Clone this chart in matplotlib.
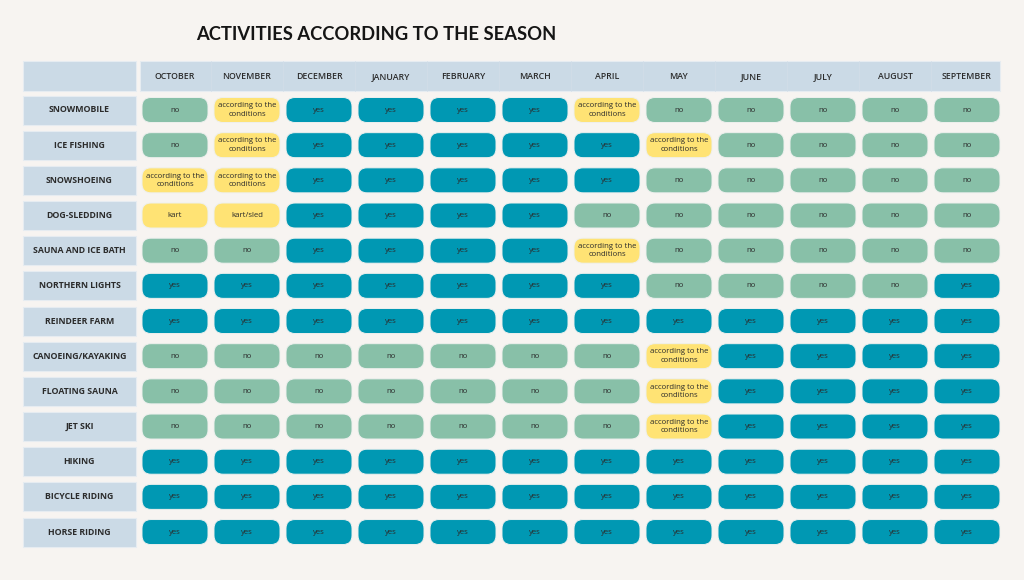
import matplotlib
matplotlib.use("Agg")
import matplotlib.pyplot as plt
from matplotlib.patches import FancyBboxPatch, Rectangle

plt.rcParams['font.family'] = ['Open Sans', 'DejaVu Sans']

title = "ACTIVITIES ACCORDING TO THE SEASON"
months = ["OCTOBER", "NOVEMBER", "DECEMBER", "JANUARY", "FEBRUARY", "MARCH",
          "APRIL", "MAY", "JUNE", "JULY", "AUGUST", "SEPTEMBER"]
activities = ["SNOWMOBILE", "ICE FISHING", "SNOWSHOEING", "DOG-SLEDDING",
              "SAUNA AND ICE BATH", "NORTHERN LIGHTS", "REINDEER FARM",
              "CANOEING/KAYAKING", "FLOATING SAUNA", "JET SKI", "HIKING",
              "BICYCLE RIDING", "HORSE RIDING"]

# y = yes, n = no, c = according to the conditions, k = kart, s = kart/sled
grid = [
    "ncyyyycnnnnn",
    "ncyyyyycnnnn",
    "ccyyyyynnnnn",
    "ksyyyynnnnnn",
    "nnyyyycnnnnn",
    "yyyyyyynnnny",
    "yyyyyyyyyyyy",
    "nnnnnnncyyyy",
    "nnnnnnncyyyy",
    "nnnnnnncyyyy",
    "yyyyyyyyyyyy",
    "yyyyyyyyyyyy",
    "yyyyyyyyyyyy",
]
labels = {"y": "yes", "n": "no", "c": "according to the\nconditions",
          "k": "kart", "s": "kart/sled"}
colors = {"y": "#0098B3", "n": "#88C0A8", "c": "#FFE374",
          "k": "#FFE374", "s": "#FFE374"}

bg = "#F7F4F1"
header_bg = "#CBDAE6"
txt = "#2B2B2B"

fig = plt.figure(figsize=(10.24, 5.8), dpi=100, facecolor=bg)
ax = fig.add_axes([0, 0, 1, 1])
ax.set_xlim(0, 1024)
ax.set_ylim(580, 0)
ax.axis('off')

col_x0, col_dx = 175, 72
row_y0, row_dy = 110, 35.17
pill_w, pill_h = 66, 25

ax.text(376, 34, title, ha='center', va='center', fontsize=13.2,
        fontweight='bold', color='#151515', family=['Lato', 'DejaVu Sans'])

# header
ax.add_patch(Rectangle((23, 61), 113, 30, facecolor=header_bg, edgecolor='#E6ECF1', lw=0.8))
ax.add_patch(Rectangle((140, 61), 860, 30, facecolor=header_bg, edgecolor='#E6ECF1', lw=0.8))
for j, m in enumerate(months):
    cx = col_x0 + j * col_dx
    if j > 0:
        ax.plot([cx - col_dx / 2] * 2, [61, 91], color='#D3DEE8', lw=0.5)
    ax.text(cx, 76.5, m, ha='center', va='center', fontsize=6.3,
            fontweight='semibold', color=txt)

for i, act in enumerate(activities):
    cy = row_y0 + i * row_dy
    ax.add_patch(Rectangle((23, cy - 14.5), 113, 29, facecolor=header_bg,
                           edgecolor='#E6ECF1', lw=0.8))
    ax.text(79.5, cy, act, ha='center', va='center', fontsize=6.3,
            fontweight='bold', color=txt)
    for j, v in enumerate(grid[i]):
        cx = col_x0 + j * col_dx
        ax.add_patch(FancyBboxPatch((cx - pill_w / 2 + 9, cy - pill_h / 2 + 9),
                                    pill_w - 18, pill_h - 18,
                                    boxstyle="round,pad=9",
                                    facecolor=colors[v], edgecolor='#EEF0EE',
                                    lw=0.7))
        ax.text(cx, cy, labels[v], ha='center', va='center', fontsize=5.6,
                color=txt, linespacing=1.3)

fig.savefig("out.png", dpi=100, facecolor=bg)
